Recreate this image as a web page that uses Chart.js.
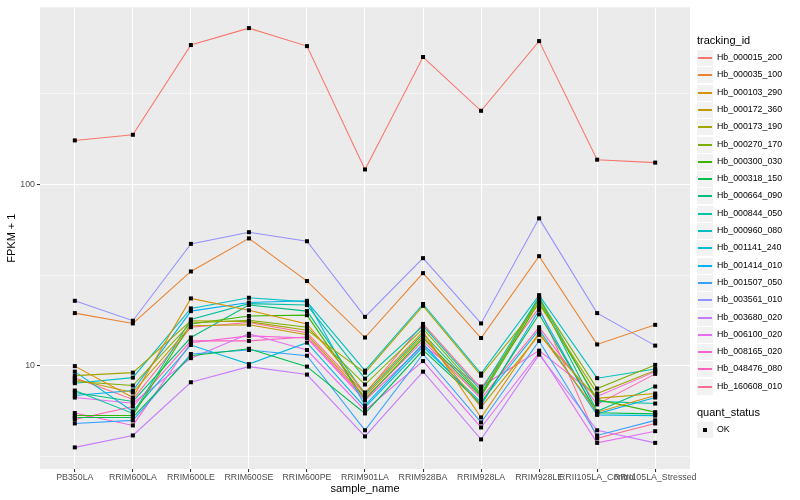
<!DOCTYPE html>
<html>
<head>
<meta charset="utf-8">
<script src="https://cdn.jsdelivr.net/npm/chart.js@4.4.1/dist/chart.umd.min.js"></script>
<style>
    html, body { margin: 0; padding: 0; background: #ffffff; }
    #wrap { position: relative; width: 800px; height: 500px; font-family: "Liberation Sans", Arial, sans-serif; }
    #chart { position: absolute; left: 0; top: 0; }
    .legend-title { position: absolute; left: 697px; font-size: 11px; line-height: 13px; color: #000000; white-space: nowrap; }
    .legend-row { position: absolute; left: 697px; height: 17px; white-space: nowrap; }
    .legend-key { position: absolute; left: 0; top: 1px; width: 16px; height: 16px; background: #F2F2F2; }
    .legend-line { position: absolute; left: 1px; width: 14px; top: 7px; height: 2px; }
    .legend-dot { position: absolute; left: 6px; top: 6px; width: 4px; height: 4px; background: #000000; }
    .legend-text { position: absolute; left: 20px; top: 0; line-height: 17px; font-size: 8.8px; color: #000000; }
</style>
</head>
<body>
<div id="wrap">
    <canvas id="chart" width="800" height="500"></canvas>
    <div id="legend"></div>
</div>
<script>
// Monsters op de x-as
var sampleNames = ["PB350LA", "RRIM600LA", "RRIM600LE", "RRIM600SE", "RRIM600PE", "RRIM901LA",
    "RRIM928BA", "RRIM928LA", "RRIM928LE", "RRII105LA_Control", "RRII105LA_Stressed"];

// FPKM + 1 per transcript, in de volgorde van sampleNames
var hb000015_200 = [175, 188, 588, 729, 580, 121, 505, 255, 618, 137, 132];
var hb000035_100 = [19.5, 17.1, 33.1, 50.4, 29.3, 14.3, 32.4, 14.2, 40.2, 13.1, 16.8];
var hb000103_290 = [9.94, 6.67, 23.5, 20.2, 17.0, 7.11, 15.4, 5.18, 15.2, 5.54, 6.84];
var hb000172_360 = [8.38, 7.11, 16.6, 16.8, 14.8, 6.76, 14.6, 5.9, 14.8, 6.6, 7.02];
var hb000173_190 = [8.81, 9.15, 17.7, 17.5, 15.7, 9.15, 21.4, 8.81, 21.9, 7.02, 9.4];
var hb000270_170 = [8.17, 7.77, 17.2, 17.8, 16.3, 7.87, 16.0, 7.02, 23.3, 7.48, 10.1];
var hb000300_030 = [5.31, 5.31, 17.0, 18.8, 19.0, 6.5, 14.2, 6.76, 22.5, 6.51, 5.54];
var hb000318_150 = [5.18, 5.18, 11.35, 12.4, 9.88, 5.45, 12.2, 6.18, 19.2, 5.5, 5.42];
var hb000664_090 = [7.11, 6.35, 14.3, 21.6, 20.0, 6.93, 15.0, 6.9, 23.7, 5.6, 7.67];
var hb000844_050 = [7.29, 5.45, 18.0, 22.0, 21.6, 8.48, 16.6, 7.29, 24.0, 6.35, 6.18];
var hb000960_080 = [8.0, 8.59, 20.7, 23.7, 22.5, 9.39, 21.9, 9.04, 24.5, 8.53, 9.59];
var hb001141_240 = [9.27, 5.59, 13.0, 10.2, 13.4, 5.88, 12.7, 6.3, 15.8, 5.35, 5.3];
var hb001414_010 = [6.84, 7.29, 20.0, 22.3, 22.8, 6.03, 13.2, 6.03, 20.3, 5.42, 6.67];
var hb001507_050 = [4.80, 4.99, 11.6, 12.2, 11.35, 4.40, 11.6, 4.86, 13.7, 4.12, 4.99];
var hb003561_010 = [22.8, 17.7, 47.0, 54.5, 48.6, 18.6, 39.2, 17.1, 65.0, 19.5, 12.9];
var hb003680_020 = [3.54, 4.12, 8.1, 9.88, 8.93, 4.07, 9.27, 3.92, 11.5, 4.40, 3.75];
var hb006100_020 = [6.67, 6.2, 11.0, 15.0, 12.2, 5.66, 10.6, 4.56, 11.8, 3.75, 4.35];
var hb008165_020 = [5.48, 4.68, 13.4, 14.6, 14.2, 6.43, 12.9, 7.67, 12.1, 6.76, 9.27];
var hb048476_080 = [5.05, 5.95, 13.7, 13.7, 14.4, 6.59, 13.7, 6.59, 16.3, 6.11, 9.01];
var hb160608_010 = [8.59, 6.51, 16.3, 17.3, 15.2, 7.0, 17.0, 7.5, 20.9, 3.97, 4.80];

var trackingIds = ["Hb_000015_200", "Hb_000035_100", "Hb_000103_290", "Hb_000172_360", "Hb_000173_190",
    "Hb_000270_170", "Hb_000300_030", "Hb_000318_150", "Hb_000664_090", "Hb_000844_050",
    "Hb_000960_080", "Hb_001141_240", "Hb_001414_010", "Hb_001507_050", "Hb_003561_010",
    "Hb_003680_020", "Hb_006100_020", "Hb_008165_020", "Hb_048476_080", "Hb_160608_010"];

var trackingValues = [hb000015_200, hb000035_100, hb000103_290, hb000172_360, hb000173_190,
    hb000270_170, hb000300_030, hb000318_150, hb000664_090, hb000844_050,
    hb000960_080, hb001141_240, hb001414_010, hb001507_050, hb003561_010,
    hb003680_020, hb006100_020, hb008165_020, hb048476_080, hb160608_010];

// Gridlijnen van de log-as (10^0.5 stappen), alleen 10 en 100 krijgen een label
var yTickValues = [3.1623, 10, 31.623, 100, 316.23];
var yTickLabels = ["", "10", "", "100", ""];

// ggplot hue-palet voor 20 niveaus
var seriesColors = ["#F8766D", "#EA8331", "#D89000", "#C09B00", "#A3A500", "#7CAE00", "#39B600",
    "#00BB4E", "#00BF7D", "#00C1A3", "#00BFC4", "#00BAE0", "#00B0F6", "#35A2FF", "#9590FF",
    "#C77CFF", "#E76BF3", "#FA62DB", "#FF62BC", "#FF6C91"];

var fontFamily = "'Liberation Sans', Arial, sans-serif";

document.addEventListener("DOMContentLoaded", function () {
    drawChart();
    drawLegend();
});

function drawChart() {
    var datasets = [];

    for (var i = 0; i < trackingIds.length; i++) {
        datasets.push({
            label: trackingIds[i],
            data: trackingValues[i].map(function (v, j) { return { x: j, y: v }; }),
            borderColor: seriesColors[i],
            borderWidth: 1.07,
            pointRadius: 0,
            tension: 0,
            fill: false
        });
    }

    new Chart(document.getElementById("chart"), {
        type: "line",
        data: { datasets: datasets },
        options: {
            responsive: false,
            animation: false,
            devicePixelRatio: 1,
            layout: { padding: { top: 3, right: 110, left: 0, bottom: 0 } },
            plugins: {
                legend: { display: false },
                tooltip: { enabled: false }
            },
            scales: {
                x: {
                    type: "linear",
                    min: -0.6,
                    max: 10.6,
                    afterBuildTicks: function (axis) {
                        axis.ticks = sampleNames.map(function (n, i) { return { value: i }; });
                    },
                    afterFit: function (axis) { axis.height = 31; },
                    ticks: {
                        autoSkip: false,
                        maxRotation: 0,
                        padding: 0,
                        color: "#4D4D4D",
                        font: { size: 8.8, family: fontFamily },
                        callback: function (value) { return sampleNames[value]; }
                    },
                    grid: { color: "#FFFFFF", lineWidth: 1.07, tickColor: "#333333", tickLength: 3, tickWidth: 1.07 },
                    border: { display: false },
                    title: {
                        display: true,
                        text: "sample_name",
                        color: "#000000",
                        font: { size: 11, family: fontFamily },
                        padding: { top: 0, bottom: 4 }
                    }
                },
                y: {
                    type: "logarithmic",
                    min: 2.69,
                    max: 950,
                    afterBuildTicks: function (axis) {
                        axis.ticks = yTickValues.map(function (v) { return { value: v }; });
                    },
                    afterFit: function (axis) { axis.width = 40; },
                    ticks: {
                        padding: 2,
                        color: "#4D4D4D",
                        font: { size: 8.8, family: fontFamily },
                        callback: function (value, index) { return yTickLabels[index]; }
                    },
                    grid: {
                        color: "#FFFFFF",
                        lineWidth: function (context) { return yTickLabels[context.index] ? 1.07 : 0.53; },
                        tickColor: function (context) { return yTickLabels[context.index] ? "#333333" : "rgba(0,0,0,0)"; },
                        tickLength: 3,
                        tickWidth: 1.07
                    },
                    border: { display: false },
                    title: {
                        display: true,
                        text: "FPKM + 1",
                        color: "#000000",
                        font: { size: 11, family: fontFamily },
                        padding: { top: 5, bottom: 0 }
                    }
                }
            }
        },
        plugins: [panelBackground, blackPoints]
    });
}

// Grijs paneel zoals ggplot
var panelBackground = {
    id: "panelBackground",
    beforeDraw: function (chart) {
        var area = chart.chartArea;
        chart.ctx.save();
        chart.ctx.fillStyle = "#EBEBEB";
        chart.ctx.fillRect(area.left, area.top, area.right - area.left, area.bottom - area.top);
        chart.ctx.restore();
    }
};

// Zwarte vierkantjes boven alle lijnen
var blackPoints = {
    id: "blackPoints",
    afterDatasetsDraw: function (chart) {
        var ctx = chart.ctx;
        ctx.save();
        ctx.fillStyle = "#000000";
        for (var i = 0; i < chart.data.datasets.length; i++) {
            var points = chart.getDatasetMeta(i).data;
            for (var j = 0; j < points.length; j++) {
                ctx.fillRect(points[j].x - 2, points[j].y - 2, 4, 4);
            }
        }
        ctx.restore();
    }
};

function drawLegend() {
    var legend = document.getElementById("legend");
    var html = '<div class="legend-title" style="top:34px">tracking_id</div>';

    for (var i = 0; i < trackingIds.length; i++) {
        var top = Math.round(49 + i * 17.3);
        html += '<div class="legend-row" style="top:' + top + 'px">' +
            '<div class="legend-key"><div class="legend-line" style="background:' + seriesColors[i] + '"></div></div>' +
            '<div class="legend-text">' + trackingIds[i] + '</div></div>';
    }

    html += '<div class="legend-title" style="top:406px">quant_status</div>';
    html += '<div class="legend-row" style="top:421px">' +
        '<div class="legend-key"><div class="legend-dot"></div></div>' +
        '<div class="legend-text">OK</div></div>';

    legend.innerHTML = html;
}
</script>
</body>
</html>
